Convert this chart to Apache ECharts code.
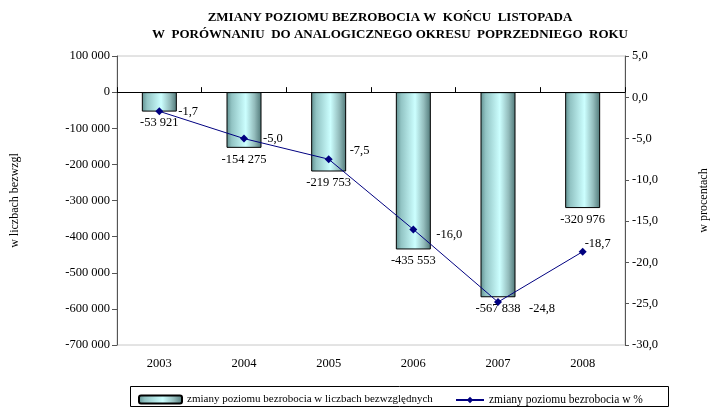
<!DOCTYPE html>
<html>
<head>
<meta charset="utf-8">
<script src="https://cdn.jsdelivr.net/npm/echarts@6/dist/echarts.min.js"></script>
<style>
  html, body { margin: 0; padding: 0; background: #fff; }
  #main { width: 710px; height: 409px; }
</style>
</head>
<body>
<div id="main"></div>
<script>
// dane
let years = ['2003', '2004', '2005', '2006', '2007', '2008']
let zmianyLiczby = [-53921, -154275, -219753, -435553, -567838, -320976]
let zmianyProcent = [-1.7, -5.0, -7.5, -16.0, -24.8, -18.7]

let nazwaSlupki = 'zmiany poziomu bezrobocia w liczbach bezwzględnych'
let nazwaLinia = 'zmiany poziomu bezrobocia w %'

// przesunięcia etykiet linii (styl, nie dane)
let labelShift = [[15, 0], [15, 0], [17, -8], [19, 5], [27, 7], [-2, -8]]

const FONT = 'Liberation Serif'

let fmtTys = v => {
    let s = Math.abs(v).toString().replace(/\B(?=(\d{3})+(?!\d))/g, ' ')
    return (v < 0 ? '-' : '') + s
}
let fmtProc = v => v.toFixed(1).replace('.', ',')

let myChart = echarts.init(document.getElementById('main'))

// "walec" - gradient poziomy
let barGradient = new echarts.graphic.LinearGradient(0, 0, 1, 0, [
    { offset: 0, color: '#5f8f8f' },
    { offset: 0.15, color: '#92c4c4' },
    { offset: 0.55, color: '#ccffff' },
    { offset: 0.8, color: '#93bcbc' },
    { offset: 1, color: '#4f7777' }
])

myChart.setOption({
    animation: false,
    textStyle: { fontFamily: FONT, color: '#000' },
    title: {
        text: 'ZMIANY POZIOMU BEZROBOCIA W  KOŃCU  LISTOPADA\nW  PORÓWNANIU  DO ANALOGICZNEGO OKRESU  POPRZEDNIEGO  ROKU',
        left: 385,
        textAlign: 'center',
        top: 4,
        textStyle: { fontFamily: FONT, fontSize: 13, fontWeight: 'bold', color: '#000', lineHeight: 17 }
    },
    grid: {
        left: 117, right: 85, top: 56, bottom: 64,
        outerBoundsMode: 'none',
        containLabel: false,
        show: true, borderColor: '#c8c8c8', borderWidth: 1
    },
    legend: [
        {
            data: [nazwaSlupki],
            left: 133, top: 389,
            itemWidth: 43, itemHeight: 8,
            itemGap: 5,
            textStyle: { fontFamily: FONT, fontSize: 11, color: '#000' }
        },
        {
            data: [nazwaLinia],
            left: 450, top: 389,
            itemWidth: 28, itemHeight: 8,
            textStyle: { fontFamily: FONT, fontSize: 11.5, color: '#000' }
        }
    ],
    graphic: [{
        type: 'rect',
        shape: { x: 130.5, y: 386.5, width: 538, height: 20 },
        style: { fill: 'none', stroke: '#000', lineWidth: 1 },
        silent: true
    }],
    xAxis: [
        {
            type: 'category',
            data: years,
            position: 'bottom',
            axisLine: { onZero: true, lineStyle: { color: '#000', width: 1 } },
            axisTick: { show: true, inside: true, length: 5, lineStyle: { color: '#000' } },
            axisLabel: { show: false }
        },
        {
            type: 'category',
            data: years,
            position: 'bottom',
            offset: 0,
            axisLine: { show: false },
            axisTick: { show: false },
            axisLabel: { margin: 12, fontFamily: FONT, fontSize: 12.5, color: '#000' }
        }
    ],
    yAxis: [
        {
            type: 'value',
            min: -700000, max: 100000, interval: 100000,
            name: 'w liczbach bezwzgl',
            nameLocation: 'middle',
            nameRotate: 90,
            nameGap: 96,
            nameTextStyle: { fontFamily: FONT, fontSize: 12, color: '#000' },
            axisLine: { show: true, onZero: false, lineStyle: { color: '#555' } },
            axisTick: { show: true, length: 5, lineStyle: { color: '#555' } },
            splitLine: { show: false },
            axisLabel: { formatter: fmtTys, margin: 7, fontFamily: FONT, fontSize: 12.5, color: '#000' }
        },
        {
            type: 'value',
            min: -30, max: 5, interval: 5,
            position: 'right',
            name: 'w procentach',
            nameLocation: 'middle',
            nameRotate: 90,
            nameGap: 73,
            nameTextStyle: { fontFamily: FONT, fontSize: 12, color: '#000' },
            axisLine: { show: true, onZero: false, lineStyle: { color: '#555' } },
            axisTick: { show: true, length: 4, lineStyle: { color: '#555' } },
            splitLine: { show: false },
            axisLabel: { formatter: fmtProc, margin: 7, fontFamily: FONT, fontSize: 12.5, color: '#000' }
        }
    ],
    series: [
        {
            name: nazwaSlupki,
            type: 'bar',
            xAxisIndex: 0,
            yAxisIndex: 0,
            data: zmianyLiczby,
            barWidth: 35,
            itemStyle: { color: barGradient, borderColor: '#000', borderWidth: 1 },
            label: {
                show: true,
                position: 'bottom',
                distance: 5,
                formatter: p => fmtTys(p.value),
                fontFamily: FONT, fontSize: 12.5, color: '#000'
            }
        },
        {
            name: nazwaLinia,
            type: 'line',
            xAxisIndex: 0,
            yAxisIndex: 1,
            data: zmianyProcent.map((v, i) => ({
                value: v,
                label: { offset: labelShift[i] }
            })),
            symbol: 'diamond',
            symbolSize: 8,
            lineStyle: { color: '#000080', width: 1 },
            itemStyle: { color: '#000080' },
            label: {
                show: true,
                position: 'right',
                distance: 0,
                formatter: p => fmtProc(p.value),
                fontFamily: FONT, fontSize: 12.5, color: '#000'
            },
            z: 5
        }
    ]
})
</script>
</body>
</html>
